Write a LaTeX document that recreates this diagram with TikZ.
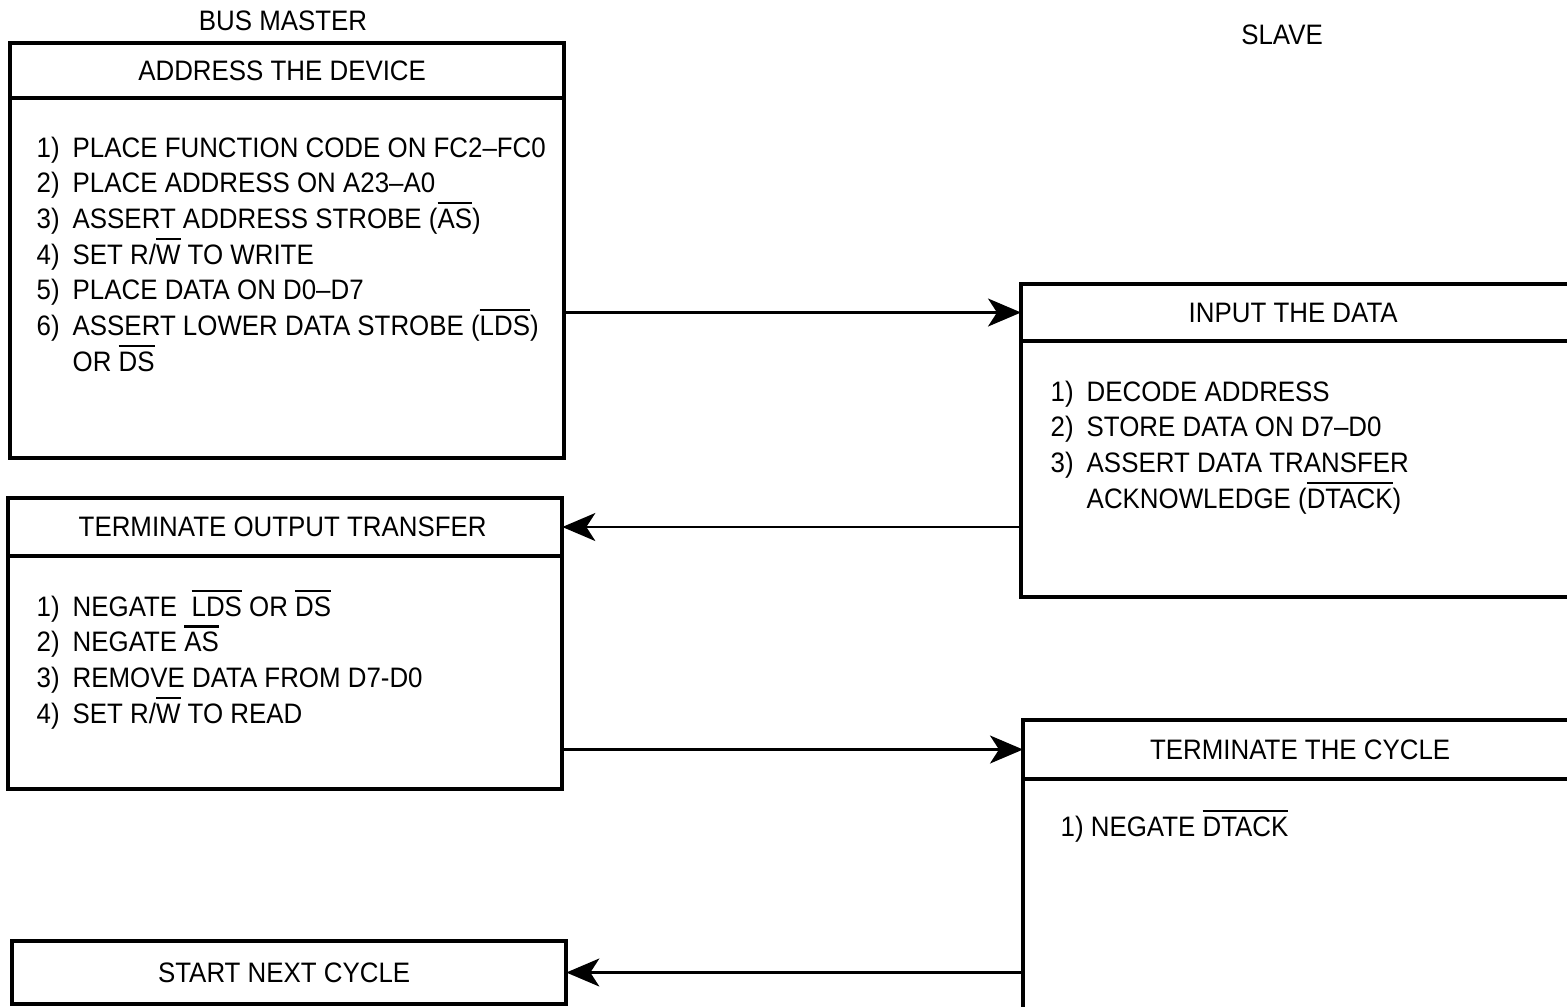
\documentclass[tikz,border=0pt]{standalone}
\usepackage{fontspec}
\setmainfont{Liberation Sans}[FakeStretch=0.92]
\usetikzlibrary{arrows.meta}
\newcommand\stepno[1]{\makebox[0.36cm][l]{#1}}
\newcommand\ovl[1]{\leavevmode\vbox{\hrule height 0.6pt\kern1.3pt\hbox{#1}}}
\begin{document}
\begin{tikzpicture}[x=0.01cm,y=-0.01cm,>={Stealth[length=3.3mm,width=2.8mm,inset=0.9mm]},
 font=\fontsize{8}{10.15}\selectfont,
 box/.style={draw,line width=1.1pt,anchor=north west,minimum width=5.54cm,inner sep=0pt,outer sep=0pt},
 steps/.style={anchor=north west,align=left,inner sep=0pt},
 link/.style={->,line width=0.6pt}]
 \clip (0,0) rectangle (1567,1007);
 \node (master) at (283,21) {BUS MASTER};
 \node (slave) at (1282,35) {SLAVE};
 \node[box,minimum height=0.55cm] (addrhdr) at (10,43) {ADDRESS THE DEVICE\hspace*{0.1cm}};
 \node[box,minimum height=3.6cm] (addrbody) at (10,98) {};
 \node[steps] (addrlist) at (36,136) {\stepno{1)}PLACE FUNCTION CODE ON FC2--FC0\\
  \stepno{2)}PLACE ADDRESS ON A23--A0\\
  \stepno{3)}ASSERT ADDRESS STROBE (\ovl{AS})\\
  \stepno{4)}SET R/\ovl{W} TO WRITE\\
  \stepno{5)}PLACE DATA ON D0--D7\\
  \stepno{6)}ASSERT LOWER DATA STROBE (\ovl{LDS})\\
  \hspace*{0.36cm}OR \ovl{DS}};
 \node[box,minimum height=0.57cm] (inhdr) at (1021,284) {INPUT THE DATA\hspace*{0.1cm}};
 \node[box,minimum height=2.56cm] (inbody) at (1021,341) {};
 \node[steps] (inlist) at (1050,380) {\stepno{1)}DECODE ADDRESS\\
  \stepno{2)}STORE DATA ON D7--D0\\
  \stepno{3)}ASSERT DATA TRANSFER\\
  \hspace*{0.36cm}ACKNOWLEDGE (\ovl{DTACK})};
 \node[box,minimum height=0.58cm] (outhdr) at (8,498) {TERMINATE OUTPUT TRANSFER\hspace*{0.05cm}};
 \node[box,minimum height=2.33cm] (outbody) at (8,556) {};
 \node[steps] (outlist) at (36,589) {\stepno{1)}NEGATE \ \ovl{LDS} OR \ovl{DS}\\
  \stepno{2)}NEGATE \ovl{AS}\\
  \stepno{3)}REMOVE DATA FROM D7-D0\\
  \stepno{4)}SET R/\ovl{W} TO READ};
 \node[box,minimum height=0.59cm] (cychdr) at (1023,720) {TERMINATE THE CYCLE};
 \node[box,minimum height=3.2cm] (cycbody) at (1023,779) {};
 \node[steps] (cyclist) at (1060,809) {1) NEGATE \ovl{DTACK}};
 \node[box,minimum height=0.63cm] (next) at (12,941) {START NEXT CYCLE\hspace*{0.1cm}};
 \draw[link] (addrbody.east |- inhdr) -- (inhdr.west);
 \draw[link] (inbody.west |- outhdr) -- (outhdr.east);
 \draw[link] (outbody.east |- cychdr) -- (cychdr.west);
 \draw[link] (cycbody.west |- next) -- (next.east);
\end{tikzpicture}
\end{document}
